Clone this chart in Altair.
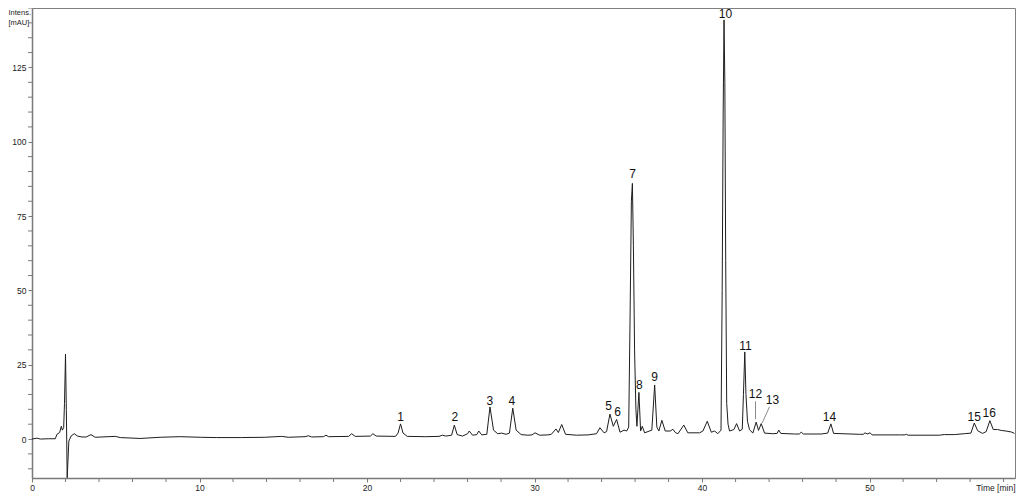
import altair as alt
import pandas as pd

# ---- chromatogram trace (retention time in min, intensity in mAU) ----
time_min = [
    0.0, 0.3, 0.5, 1.0, 1.39, 1.49, 1.65, 1.75, 1.81, 1.89, 1.94, 2.0, 2.05, 2.1, 2.2, 2.33, 2.52, 2.72,
    2.98, 3.24, 3.52, 3.77, 4.97, 5.27, 6.46, 7.65, 8.84, 10.04,
    11.0, 12.5, 13.9, 14.9, 15.3, 16.3, 16.5, 16.7, 17.4, 17.55, 17.7, 18.9, 19.08, 19.3, 20.2, 20.35,
    20.55, 21.7, 21.85, 22.0, 22.15, 22.4,
    23.5, 24.3, 24.5, 24.7, 25.05, 25.21, 25.38, 25.7, 26.0, 26.1, 26.3, 26.55, 26.67, 26.85, 27.15,
    27.34, 27.55, 27.8, 28.04, 28.3, 28.5, 28.7, 28.9, 29.2, 29.6, 29.85, 30.03, 30.3,
    30.8, 31.0, 31.28, 31.42, 31.62, 31.85, 32.5, 33.2, 33.7, 33.9, 34.15, 34.3, 34.5, 34.7, 34.9, 35.1,
    35.34, 35.5, 35.62, 35.7, 35.78, 35.84, 35.9, 35.97, 36.05, 36.11, 36.23, 36.33, 36.43, 36.57,
    37.0, 37.17, 37.3, 37.42, 37.6, 37.8, 38.1, 38.26, 38.4, 38.56, 38.91, 39.15, 39.85, 40.05, 40.31,
    40.55, 40.75, 40.94, 41.13, 41.2, 41.26, 41.31, 41.36, 41.41, 41.47, 41.55, 41.64, 41.9,
    42.06, 42.24, 42.4, 42.47, 42.55, 42.62, 42.71, 42.83, 43.03, 43.23, 43.37, 43.53, 43.73, 44.22,
    44.48, 44.58, 44.7, 45.51, 45.8, 45.92, 46.05, 47.11, 47.5, 47.69, 47.85, 49.39, 49.62, 49.73,
    49.85, 50.03, 50.15, 51.78, 52.1, 52.2, 52.3, 54.16, 54.46, 55.05, 55.65, 56.05, 56.25, 56.45,
    56.74, 56.96, 57.18, 57.38, 57.64, 57.86, 58.14, 58.45, 58.65,
]
intensity_mau = [
    0.0, 0.3, 0.0, 0.1, 0.1, 1.6, 2.2, 4.3, 3.0, 3.8, 12.0, 28.6, 10.0, -13.0, -0.7, 1.0, 1.8, 1.0,
    0.7, 0.7, 1.5, 0.6, 0.9, 0.5, 0.2, 0.6, 0.8, 0.6,
    0.5, 0.5, 0.6, 0.9, 0.6, 0.8, 1.1, 0.7, 0.8, 1.3, 0.8, 0.9, 1.8, 0.9, 1.0, 1.8,
    1.0, 0.9, 2.0, 5.1, 2.0, 0.9,
    0.8, 0.9, 1.3, 1.0, 1.3, 4.7, 1.5, 1.0, 1.8, 2.7, 1.3, 1.5, 2.7, 1.4, 1.6,
    10.8, 3.0, 1.8, 2.0, 1.6, 2.0, 10.4, 3.0, 1.5, 1.3, 1.4, 2.1, 1.3,
    1.4, 1.6, 3.4, 2.2, 4.9, 1.6, 1.3, 1.4, 1.8, 3.8, 2.1, 2.5, 8.4, 4.3, 6.6, 2.3,
    3.0, 2.7, 4.0, 40.0, 80.0, 86.0, 65.0, 30.0, 10.0, 4.3, 15.7, 2.7, 4.3, 2.1,
    3.0, 18.2, 4.0, 2.7, 6.3, 2.7, 2.7, 3.3, 2.2, 1.8, 4.7, 2.1, 2.1, 2.7, 6.0,
    2.3, 2.7, 1.8, 3.0, 50.0, 110.0, 141.0, 120.0, 60.0, 12.0, 5.0, 2.7, 3.2,
    5.2, 2.7, 3.3, 15.0, 29.3, 15.0, 6.0, 3.2, 2.0, 5.7, 2.9, 5.2, 2.0, 1.8,
    1.9, 3.0, 1.9, 1.7, 1.7, 2.3, 1.7, 1.7, 2.0, 5.1, 1.9, 1.6, 1.6, 2.1,
    1.7, 2.1, 1.4, 1.4, 1.4, 1.6, 1.3, 1.3, 1.5, 1.5, 1.8, 2.0, 5.4, 2.8,
    1.9, 2.5, 6.2, 3.2, 3.2, 2.9, 2.7, 2.4, 1.9,
]
assert len(time_min) == len(intensity_mau)

# ---- peak numbering (label anchor in data units) ----
peak_ids = ["1", "2", "3", "4", "5", "6", "7", "8", "9", "10", "11", "12", "13", "14", "15", "16"]
peak_label_t = [22.0, 25.24, 27.33, 28.65, 34.42, 34.96, 35.85, 36.25, 37.17, 41.4, 42.59, 43.19,
                44.2, 47.6, 56.25, 57.14]
peak_label_v = [7.5, 7.5, 12.7, 12.7, 11.0, 9.0, 89.3, 18.3, 21.0, 143.0, 31.3, 15.3, 13.0, 7.5,
                7.5, 8.8]

# leader lines for labels 12 and 13
leader_t = [43.19, 43.59]
leader_v = [6.7, 5.4]
leader_t2 = [43.19, 44.02]
leader_v2 = [12.7, 10.8]

# axis ticks
x_major_ticks = [0, 10, 20, 30, 40, 50]
x_minor_ticks = [2, 4, 6, 8, 12, 14, 16, 18, 22, 24, 26, 28, 32, 34, 36, 38, 42, 44, 46, 48,
                 52, 54, 56, 58]
y_major_ticks = [0, 25, 50, 75, 100, 125]
y_minor_ticks = [-10, -5, 5, 10, 15, 20, 30, 35, 40, 45, 55, 60, 65, 70, 80, 85, 90, 95, 105, 110,
                 115, 120, 130, 135, 140, 145]

trace = pd.DataFrame({"t": time_min, "v": intensity_mau})
labels = pd.DataFrame({"id": peak_ids, "t": peak_label_t, "v": peak_label_v})
leaders = pd.DataFrame({"t": leader_t, "v": leader_v, "t2": leader_t2, "v2": leader_v2})
xminor = pd.DataFrame({"t": x_minor_ticks})
yminor = pd.DataFrame({"v": y_minor_ticks})

PLOT_W = 983
PLOT_H = 470

x_scale = alt.Scale(domain=[0, 58.68], nice=False, zero=False)
y_scale = alt.Scale(domain=[-13.1, 145], nice=False, zero=False)

AX_FONT = "Liberation Sans"
AX_GRAY = "#7a7a7a"

x_axis = alt.Axis(
    values=x_major_ticks,
    labelOverlap=False,
    labelFlush=False,
    grid=False,
    tickSize=4,
    labelPadding=1,
    title="Time [min]",
    titleAlign="right",
    titleBaseline="middle",
    titleX=PLOT_W,
    titleY=9,
    titleFont=AX_FONT,
    titleFontSize=8.5,
    titleFontWeight="normal",
    titleColor="#222222",
)
y_axis = alt.Axis(
    values=y_major_ticks,
    labelOverlap=False,
    labelFlush=False,
    grid=False,
    tickSize=4,
    labelPadding=2,
    title=["Intens.", "[mAU]"],
    titleAngle=0,
    titleAlign="left",
    titleBaseline="top",
    titleX=-24,
    titleY=0,
    titleLineHeight=10,
    titleFont=AX_FONT,
    titleFontSize=7.5,
    titleFontWeight="normal",
    titleColor="#222222",
)

line = alt.Chart(trace).mark_line(color="#1e1e1e", strokeWidth=1, interpolate="linear").encode(
    x=alt.X("t:Q", scale=x_scale, axis=x_axis),
    y=alt.Y("v:Q", scale=y_scale, axis=y_axis),
    order="t:Q",
)

x_minor = alt.Chart(xminor).mark_rule(color=AX_GRAY, strokeWidth=1).encode(
    x=alt.X("t:Q", scale=x_scale),
    y=alt.value(PLOT_H),
    y2=alt.value(PLOT_H + 4),
)
y_minor = alt.Chart(yminor).mark_rule(color=AX_GRAY, strokeWidth=1).encode(
    y=alt.Y("v:Q", scale=y_scale),
    x=alt.value(0),
    x2=alt.value(-4),
)

leader_rules = alt.Chart(leaders).mark_rule(color="#8a8a8a", strokeWidth=1).encode(
    x=alt.X("t:Q", scale=x_scale),
    y=alt.Y("v:Q", scale=y_scale),
    x2="t2:Q",
    y2="v2:Q",
)

peak_text = alt.Chart(labels).mark_text(
    font="Liberation Sans", fontSize=12, color="#111111", align="center", baseline="middle"
).encode(
    x=alt.X("t:Q", scale=x_scale),
    y=alt.Y("v:Q", scale=y_scale),
    text="id:N",
)

chart = (
    alt.layer(line, x_minor, y_minor, leader_rules, peak_text)
    .properties(
        width=PLOT_W,
        height=PLOT_H,
        padding={"left": 24, "top": 0, "right": 1, "bottom": 16},
        autosize=alt.AutoSizeParams(type="none"),
        background="white",
    )
    .configure_view(stroke="#808080", strokeWidth=1)
    .configure_axis(
        domainColor=AX_GRAY,
        domainWidth=1.5,
        tickColor=AX_GRAY,
        labelColor="#222222",
        labelFont=AX_FONT,
        labelFontSize=8.5,
    )
)

chart.save("out.html", embed_options={"renderer": "svg", "actions": False})
